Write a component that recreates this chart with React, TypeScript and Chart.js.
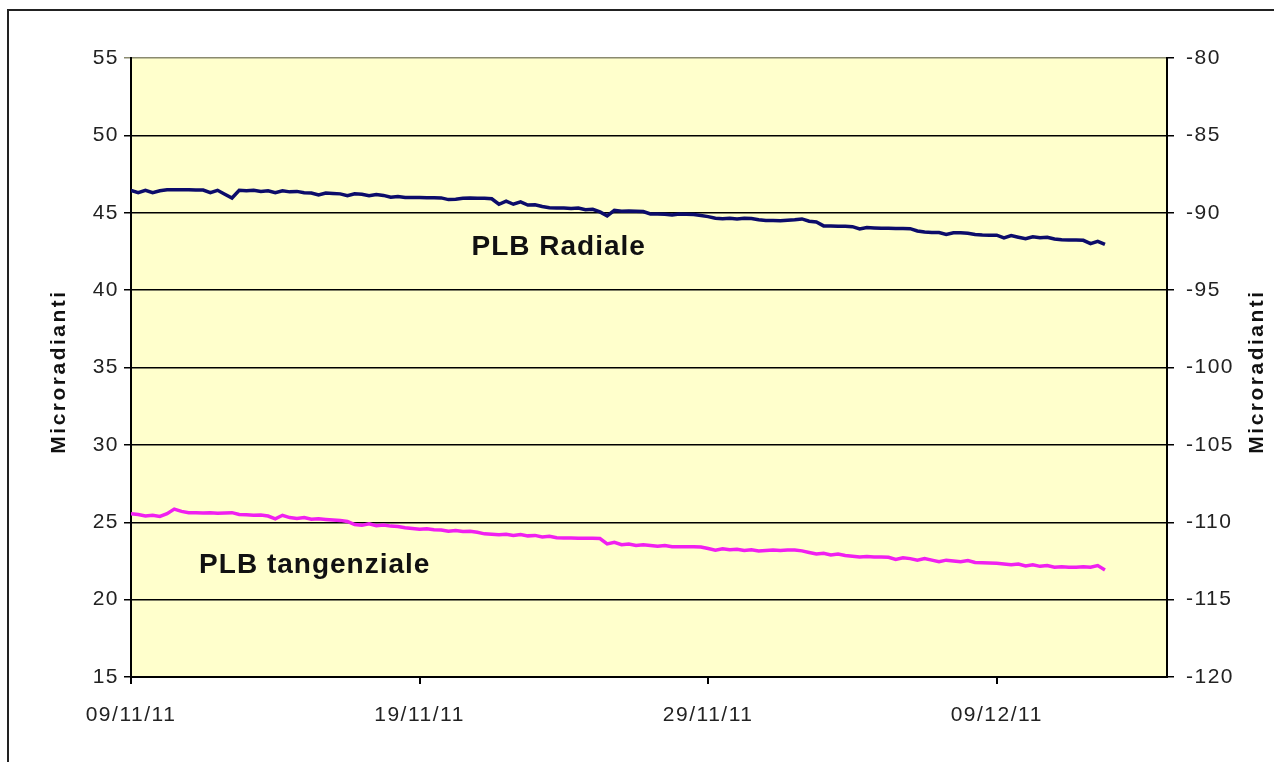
import { useEffect, useRef } from 'react';
import { Chart, registerables } from 'chart.js';

Chart.register(...registerables);

// Time in days after 09/11/11 00:00
const dayOffsets = [
  0, 0.25, 0.5, 0.75, 1, 1.25, 1.5, 1.75, 2, 2.25, 2.5, 2.75, 3, 3.25, 3.5, 3.75, 4, 4.25, 4.5, 4.75,
  5, 5.25, 5.5, 5.75, 6, 6.25, 6.5, 6.75, 7, 7.25, 7.5, 7.75, 8, 8.25, 8.5, 8.75, 9, 9.25, 9.5, 9.75,
  10, 10.25, 10.5, 10.75, 11, 11.25, 11.5, 11.75, 12, 12.25, 12.5, 12.75, 13, 13.25, 13.5, 13.75, 14, 14.25, 14.5, 14.75,
  15, 15.25, 15.5, 15.75, 16, 16.25, 16.5, 16.75, 17, 17.25, 17.5, 17.75, 18, 18.25, 18.5, 18.75, 19, 19.25, 19.5, 19.75,
  20, 20.25, 20.5, 20.75, 21, 21.25, 21.5, 21.75, 22, 22.25, 22.5, 22.75, 23, 23.25, 23.5, 23.75, 24, 24.25, 24.5, 24.75,
  25, 25.25, 25.5, 25.75, 26, 26.25, 26.5, 26.75, 27, 27.25, 27.5, 27.75, 28, 28.25, 28.5, 28.75, 29, 29.25, 29.5, 29.75,
  30, 30.25, 30.5, 30.75, 31, 31.25, 31.5, 31.75, 32, 32.25, 32.5, 32.75, 33, 33.25, 33.5, 33.75,
];

// PLB Radiale (left axis, microradianti)
const radialValues = [
  46.45, 46.3, 46.45, 46.3, 46.42, 46.48, 46.48, 46.48, 46.48, 46.47,
  46.47, 46.3, 46.45, 46.2, 45.95, 46.45, 46.42, 46.45, 46.38, 46.42,
  46.3, 46.42, 46.35, 46.38, 46.3, 46.28, 46.15, 46.28, 46.25, 46.22,
  46.1, 46.22, 46.2, 46.1, 46.18, 46.12, 46.0, 46.05, 45.98, 45.98,
  45.98, 45.97, 45.97, 45.96, 45.85, 45.88, 45.93, 45.95, 45.93, 45.94,
  45.9, 45.55, 45.75, 45.55, 45.7, 45.5, 45.52, 45.4, 45.32, 45.3,
  45.3, 45.28, 45.3, 45.2, 45.22, 45.05, 44.8, 45.15, 45.1, 45.12,
  45.1, 45.08, 44.92, 44.92, 44.9, 44.85, 44.92, 44.9, 44.88, 44.82,
  44.75, 44.65, 44.62, 44.65, 44.6, 44.65, 44.63, 44.55, 44.5, 44.5,
  44.48, 44.52, 44.55, 44.6, 44.45, 44.4, 44.15, 44.15, 44.13, 44.12,
  44.1, 43.95, 44.05, 44.02, 44.0, 44.0, 43.98, 43.98, 43.97, 43.82,
  43.75, 43.72, 43.72, 43.6, 43.7, 43.7, 43.68, 43.6, 43.56, 43.55,
  43.55, 43.38, 43.52, 43.42, 43.32, 43.45, 43.38, 43.42, 43.3, 43.25,
  43.24, 43.24, 43.22, 43.0, 43.15, 42.95,
];

// PLB tangenziale (read on the left axis, microradianti)
const tangentialValues = [
  25.55, 25.5, 25.4, 25.45, 25.38, 25.55, 25.85, 25.7, 25.62, 25.62,
  25.6, 25.62, 25.58, 25.6, 25.62, 25.5, 25.48, 25.45, 25.47, 25.4,
  25.22, 25.45, 25.3, 25.25, 25.3, 25.2, 25.22, 25.18, 25.15, 25.12,
  25.05, 24.85, 24.8, 24.9, 24.78, 24.82, 24.75, 24.72, 24.65, 24.6,
  24.55, 24.58, 24.52, 24.5, 24.42, 24.47, 24.4, 24.42, 24.35, 24.25,
  24.22, 24.2, 24.22, 24.15, 24.2, 24.12, 24.15, 24.05, 24.1, 24.0,
  23.98, 23.98, 23.97, 23.97, 23.96, 23.95, 23.6, 23.7, 23.55, 23.6,
  23.5, 23.55, 23.5, 23.45, 23.5, 23.42, 23.42, 23.42, 23.41, 23.4,
  23.3, 23.2, 23.28, 23.22, 23.25, 23.18, 23.22, 23.15, 23.18, 23.2,
  23.18, 23.2, 23.2, 23.15, 23.05, 22.95, 23.0, 22.88, 22.95, 22.85,
  22.8, 22.75, 22.78, 22.76, 22.76, 22.74, 22.6, 22.7, 22.65, 22.55,
  22.65, 22.55, 22.45, 22.55, 22.5, 22.45, 22.52, 22.4, 22.38, 22.36,
  22.35, 22.3, 22.25, 22.3, 22.18, 22.25, 22.15, 22.2, 22.1, 22.12,
  22.1, 22.1, 22.12, 22.1, 22.2, 21.92,
];

const xTickDays = [0, 10, 20, 30];
const xTickLabels = ['09/11/11', '19/11/11', '29/11/11', '09/12/11'];
const xAxisMaxDay = 35.9;

const leftMin = 15;
const leftMax = 55;
const rightMin = -120;
const rightMax = -80;
const yStep = 5;

const axisTitle = 'Microradianti';
const seriesLabels = ['PLB Radiale', 'PLB tangenziale'];
const labelDays = [11.8, 2.36];
const labelValues = [42.8, 22.25];

const FONT = '"Liberation Sans", Arial, sans-serif';

export default function App() {
  const ref = useRef<HTMLCanvasElement>(null);

  useEffect(() => {
    const canvas = ref.current;
    if (!canvas) return;

    const decor = {
      id: 'decor',
      beforeLayout(chart: any) {
        chart.ctx.letterSpacing = '1.5px';
      },
      beforeDraw(chart: any) {
        const { ctx, chartArea: a } = chart;
        ctx.letterSpacing = '1.5px';
        ctx.save();
        ctx.fillStyle = '#FFFFCC';
        ctx.fillRect(a.left, a.top, a.right - a.left, a.bottom - a.top);
        ctx.restore();
      },
      afterDraw(chart: any) {
        const { ctx, chartArea: a, scales } = chart;
        ctx.save();
        ctx.fillStyle = '#111';
        ctx.font = `bold 21px ${FONT}`;
        ctx.letterSpacing = '2.5px';
        ctx.textAlign = 'center';
        ctx.textBaseline = 'middle';
        const cy = (a.top + a.bottom) / 2 + 4;
        [59, 1257].forEach((x) => {
          ctx.save();
          ctx.translate(x, cy);
          ctx.rotate(-Math.PI / 2);
          ctx.fillText(axisTitle, 0, 0);
          ctx.restore();
        });
        ctx.font = `bold 28px ${FONT}`;
        ctx.letterSpacing = '1px';
        ctx.textAlign = 'left';
        seriesLabels.forEach((t, i) => {
          ctx.fillText(t, scales.x.getPixelForValue(labelDays[i]), scales.y.getPixelForValue(labelValues[i]));
        });
        ctx.restore();
      },
    };

    const tickFont = { family: FONT, size: 21 };

    const chart = new Chart(canvas, {
      type: 'line',
      data: {
        datasets: [
          {
            label: seriesLabels[0],
            data: dayOffsets.map((d, i) => ({ x: d, y: radialValues[i] })),
            borderColor: '#0C0C6A',
            borderWidth: 3.5,
            pointRadius: 0,
            tension: 0,
            yAxisID: 'y',
          },
          {
            label: seriesLabels[1],
            data: dayOffsets.map((d, i) => ({ x: d, y: tangentialValues[i] })),
            borderColor: '#F020F0',
            borderWidth: 3.5,
            pointRadius: 0,
            tension: 0,
            yAxisID: 'y',
          },
        ],
      },
      options: {
        responsive: false,
        animation: false,
        events: [],
        layout: { padding: { left: 0, top: 58, right: 0, bottom: 0 } },
        plugins: { legend: { display: false }, tooltip: { enabled: false } },
        scales: {
          x: {
            type: 'linear',
            position: 'bottom',
            min: 0,
            max: xAxisMaxDay,
            afterBuildTicks: (s: any) => {
              s.ticks = xTickDays.map((v) => ({ value: v }));
            },
            afterFit: (s: any) => {
              s.height = 85;
            },
            ticks: {
              font: tickFont,
              color: '#222',
              padding: 19,
              maxRotation: 0,
              autoSkip: false,
              callback: (v: any) => {
                const idx = xTickDays.indexOf(Number(v));
                return idx >= 0 ? xTickLabels[idx] : '';
              },
            },
            grid: { drawOnChartArea: false, drawTicks: true, tickLength: 7, color: '#000', lineWidth: 2 },
            border: { display: true, color: '#000', width: 2 },
          },
          y: {
            type: 'linear',
            position: 'left',
            min: leftMin,
            max: leftMax,
            ticks: { stepSize: yStep, font: tickFont, color: '#222', padding: 5 },
            afterFit: (s: any) => {
              s.width = 131;
            },
            grid: {
              drawOnChartArea: true,
              drawTicks: true,
              tickLength: 7,
              color: (c: any) => (c.tick && c.tick.value === leftMax ? '#8a8a70' : '#000'),
              lineWidth: 1.5,
            },
            border: { display: true, color: '#000', width: 2 },
          },
          y2: {
            type: 'linear',
            position: 'right',
            min: rightMin,
            max: rightMax,
            ticks: { stepSize: yStep, font: tickFont, color: '#222', padding: 12 },
            afterFit: (s: any) => {
              s.width = 107;
            },
            grid: { drawOnChartArea: false, drawTicks: true, tickLength: 7, color: '#000', lineWidth: 1.5 },
            border: { display: true, color: '#000', width: 2 },
          },
        },
      },
      plugins: [decor],
    } as any);

    return () => chart.destroy();
  }, []);

  return (
    <>
      <div
        style={{
          position: 'fixed',
          left: 7,
          top: 9,
          width: 1300,
          height: 800,
          border: '2px solid #222',
          boxSizing: 'border-box',
          background: '#fff',
        }}
      />
      <canvas
        ref={ref}
        width={1274}
        height={762}
        style={{ position: 'fixed', left: 0, top: 0, width: 1274, height: 762 }}
      />
    </>
  );
}
